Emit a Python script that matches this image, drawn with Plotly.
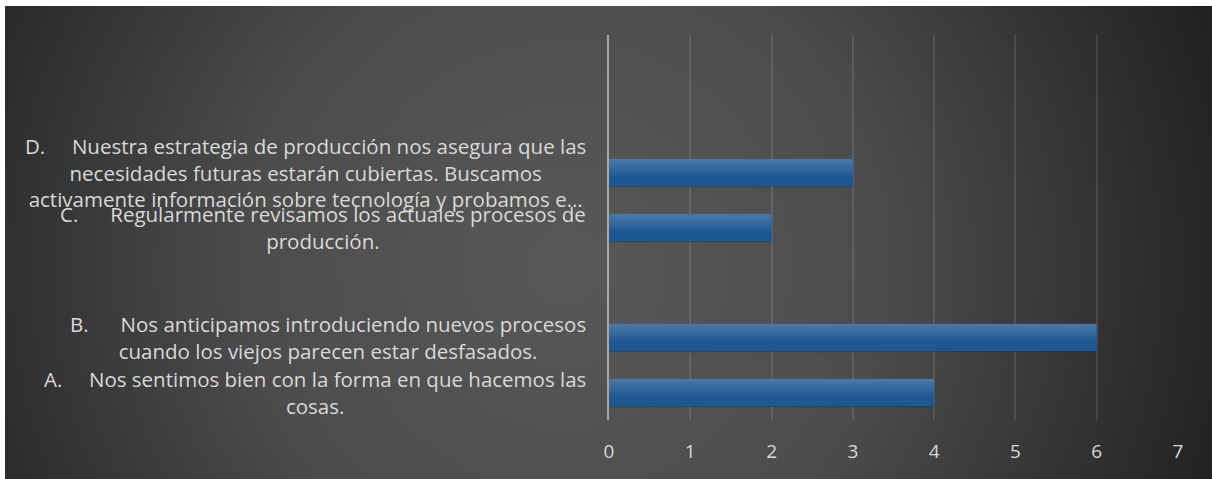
import base64
import plotly.graph_objects as go

# ---- data ----
categories = ["A", "B", "gap1", "C", "D", "gap2", "gap3"]
bar_categories = ["A", "B", "C", "D"]
values = [4, 6, 2, 3]
NB = "\u00a0"
labels = [
    "A." + NB * 5 + "Nos sentimos bien con la forma en que hacemos las<br>cosas.",
    "B." + NB * 6 + "Nos anticipamos introduciendo nuevos procesos<br>cuando los viejos parecen estar desfasados.",
    "C." + NB * 6 + "Regularmente revisamos los actuales procesos de<br>producción.",
    "D." + NB * 5 + "Nuestra estrategia de producción nos asegura que las<br>necesidades futuras estarán cubiertas. Buscamos<br>activamente información sobre tecnología y probamos e…",
]
x_ticks = [0, 1, 2, 3, 4, 5, 6, 7]

W, H = 1212, 479
L, R, T, B = 609, 34, 35, 59
pw, ph = W - L - R, H - T - B
FONT = "Open Sans"

svg = f'''<svg xmlns="http://www.w3.org/2000/svg" width="1207" height="473" viewBox="0 0 1207 473">
<defs><radialGradient id="g" gradientUnits="userSpaceOnUse" cx="560" cy="260" r="700">
<stop offset="0" stop-color="#585858"/><stop offset="0.45" stop-color="#4c4c4c"/><stop offset="1" stop-color="#202020"/>
</radialGradient></defs><rect width="1207" height="473" fill="url(#g)"/></svg>'''
bg_uri = "data:image/svg+xml;base64," + base64.b64encode(svg.encode()).decode()

fig = go.Figure()
# soft shadow
fig.add_trace(go.Bar(x=values, y=bar_categories, orientation="h", width=0.5, offset=-0.27,
                     marker=dict(color="rgba(0,0,0,0.22)", line=dict(width=0)), hoverinfo="skip"))
# main bar
fig.add_trace(go.Bar(x=values, y=bar_categories, orientation="h", width=0.5, offset=-0.25,
                     marker=dict(color="#1d5893", line=dict(width=0))))
# gradient highlight toward the top edge
for wdt in [0.3, 0.24, 0.18, 0.12, 0.06]:
    fig.add_trace(go.Bar(x=values, y=bar_categories, orientation="h", width=wdt, offset=0.25 - wdt,
                         marker=dict(color="rgba(255,255,255,0.045)", line=dict(width=0)),
                         hoverinfo="skip"))

for cat, lab in zip(bar_categories, labels):
    fig.add_annotation(x=-0.037, xref="paper", y=cat, yref="y", text=lab, showarrow=False,
                       xanchor="right", yanchor="middle", align="center",
                       font=dict(family=FONT, size=20.5, color="#d9d9d9"))

fig.update_layout(
    width=W, height=H, barmode="overlay", showlegend=False,
    margin=dict(l=L, r=R, t=T, b=B, pad=0),
    paper_bgcolor="white", plot_bgcolor="rgba(0,0,0,0)",
    images=[dict(source=bg_uri, xref="paper", yref="paper",
                 x=(5 - L) / pw, y=(H - B - 6) / ph,
                 sizex=(W - 5) / pw, sizey=(H - 6) / ph,
                 xanchor="left", yanchor="top", sizing="stretch", layer="below")],
    xaxis=dict(range=[0, 7], tickvals=x_ticks, showgrid=True, gridcolor="rgba(255,255,255,0.11)",
               gridwidth=2, zeroline=False, showline=False, ticks="outside", ticklen=14,
               tickcolor="rgba(0,0,0,0)", tickfont=dict(family=FONT, size=19, color="#d9d9d9")),
    yaxis=dict(type="category", categoryorder="array", categoryarray=categories,
               range=[-0.5, 6.5], showticklabels=False, showgrid=False, zeroline=False,
               showline=True, linecolor="#a6a6a6", linewidth=2),
)
fig.write_html("out.html", config={"displayModeBar": False},
               post_script="document.body.style.margin='0';document.body.style.padding='0';")
